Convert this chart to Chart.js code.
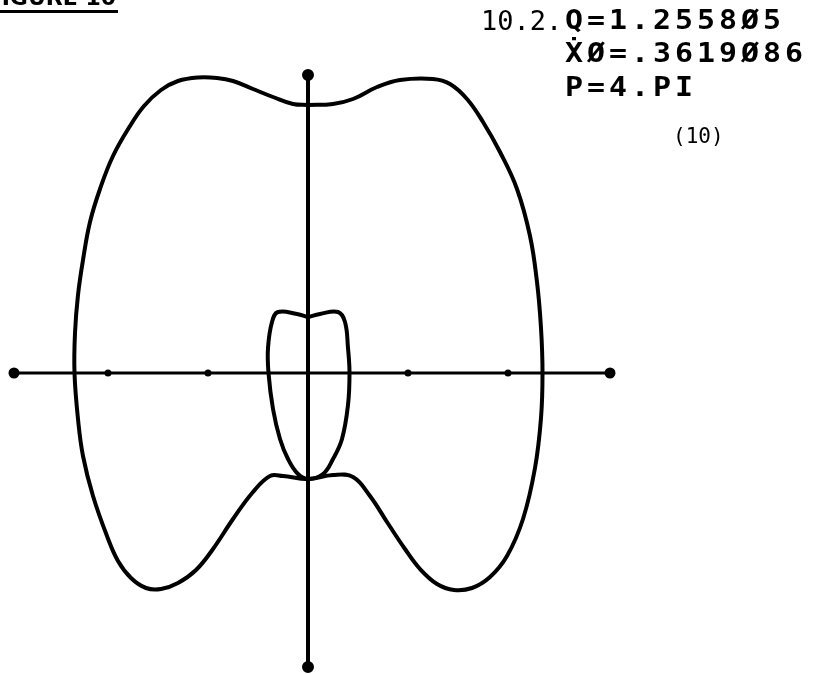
<!DOCTYPE html>
<html>
<head>
<meta charset="utf-8">
<script src="https://cdn.jsdelivr.net/npm/chart.js@4"></script>
<style>
  body { margin: 0; background: #fff; }
</style>
</head>
<body>
<canvas id="myChart" width="826" height="674"></canvas>
<script>
const outerX = [0, 0.25, 0.45, 0.69, 0.92, 1.25, 1.42, 1.59, 1.75, 1.92, 2.09, 2.22, 2.29, 2.33, 2.345, 2.33, 2.27, 2.15, 1.99, 1.82, 1.64, 1.46, 1.29, 1.12, 0.97, 0.79, 0.62, 0.45, 0.25, 0,
  -0.25, -0.38, -0.55, -0.75, -0.95, -1.12, -1.30, -1.47, -1.62, -1.77, -1.90, -2.01, -2.15, -2.25, -2.30, -2.335, -2.33, -2.30, -2.25, -2.18, -2.08, -1.95, -1.78, -1.64, -1.47, -1.30, -1.10, -0.91, -0.75, -0.55, -0.35, -0.15, 0];
const outerY = [2.68, 2.69, 2.74, 2.86, 2.93, 2.94, 2.89, 2.74, 2.51, 2.21, 1.84, 1.37, 0.91, 0.45, 0.0, -0.45, -0.95, -1.46, -1.83, -2.04, -2.15, -2.17, -2.11, -1.96, -1.76, -1.49, -1.23, -1.04, -1.02, -1.06,
  -1.03, -1.03, -1.19, -1.46, -1.76, -1.97, -2.10, -2.16, -2.15, -2.05, -1.88, -1.63, -1.23, -0.83, -0.46, 0.0, 0.40, 0.78, 1.13, 1.51, 1.84, 2.17, 2.47, 2.67, 2.83, 2.92, 2.955, 2.95, 2.92, 2.84, 2.76, 2.69, 2.68];

// inner loop
const innerX = [0, 0.12, 0.30, 0.37, 0.40, 0.415, 0.40, 0.34, 0.25, 0.15, 0, -0.10, -0.20, -0.28, -0.35, -0.395, -0.40, -0.36, -0.30, -0.11, 0];
const innerY = [0.56, 0.59, 0.61, 0.51, 0.25, 0.0, -0.32, -0.66, -0.86, -1.01, -1.06, -1.01, -0.86, -0.66, -0.36, 0.0, 0.25, 0.51, 0.61, 0.59, 0.56];

// axes ends and tick marks
const axisXEnds = [-2.94, 3.02];
const axisYEnds = [2.98, -2.94];
const tickValues = [-2, -1, 1, 2];

const labelLines = ["Q=1.2558Ø5", "ẊØ=.3619Ø86", "P=4.PI"];

const toPoints = (xs, ys) => xs.map((x, i) => ({ x: x, y: ys[i] }));

const textPlugin = {
  id: "texts",
  afterDraw(chart) {
    const ctx = chart.ctx;
    ctx.save();
    ctx.fillStyle = "#000";
    ctx.textBaseline = "alphabetic";

    // cut-off title at the top left
    ctx.font = "bold 22px 'DejaVu Sans'";
    ctx.textAlign = "right";
    ctx.fillText("FIGURE 10", 116, 5);
    ctx.fillRect(0, 10, 118, 3);

    ctx.textAlign = "left";
    ctx.font = "27px 'DejaVu Sans Mono'";
    ctx.fillText("10.2.", 481, 30);

    ctx.font = "bold 26px 'DejaVu Sans Mono'";
    const baselines = [29, 62, 96];
    labelLines.forEach((line, li) => {
      Array.from(line).forEach((c, i) => {
        ctx.save();
        ctx.translate(565 + i * 22, baselines[li]);
        ctx.scale(1.15, 1);
        ctx.fillText(c, 0, 0);
        ctx.restore();
      });
    });

    ctx.font = "21px 'DejaVu Sans Mono'";
    ctx.fillText("(10)", 673, 143);
    ctx.restore();
  },
};

const data = {
  datasets: [
    {
      label: "outer",
      data: toPoints(outerX, outerY),
      showLine: true,
      borderColor: "#000",
      borderWidth: 4,
      pointRadius: 0,
      tension: 0.4,
    },
    {
      label: "inner",
      data: toPoints(innerX, innerY),
      showLine: true,
      borderColor: "#000",
      borderWidth: 4,
      pointRadius: 0,
      tension: 0.4,
    },
    {
      label: "x axis",
      data: [{ x: axisXEnds[0], y: 0 }, ...tickValues.map((t) => ({ x: t, y: 0 })), { x: axisXEnds[1], y: 0 }]
        .sort((a, b) => a.x - b.x),
      showLine: true,
      borderColor: "#000",
      backgroundColor: "#000",
      borderWidth: 3,
      pointRadius: [4, 2, 2, 2, 2, 4],
    },
    {
      label: "y axis",
      data: [{ x: 0, y: axisYEnds[0] }, { x: 0, y: axisYEnds[1] }],
      showLine: true,
      borderColor: "#000",
      backgroundColor: "#000",
      borderWidth: 4,
      pointRadius: 4,
    },
  ],
};

const config = {
  type: "scatter",
  data: data,
  options: {
    responsive: false,
    animation: false,
    clip: false,
    layout: { padding: 0, autoPadding: false },
    plugins: {
      legend: { display: false },
      tooltip: { enabled: false },
    },
    scales: {
      x: { type: "linear", min: -3.08, max: 5.18, display: false },
      y: { type: "linear", min: -3.01, max: 3.73, display: false },
    },
  },
  plugins: [textPlugin],
};

const ctx = document.getElementById("myChart");
const myChart = new Chart(ctx.getContext("2d"), config);
</script>
</body>
</html>
